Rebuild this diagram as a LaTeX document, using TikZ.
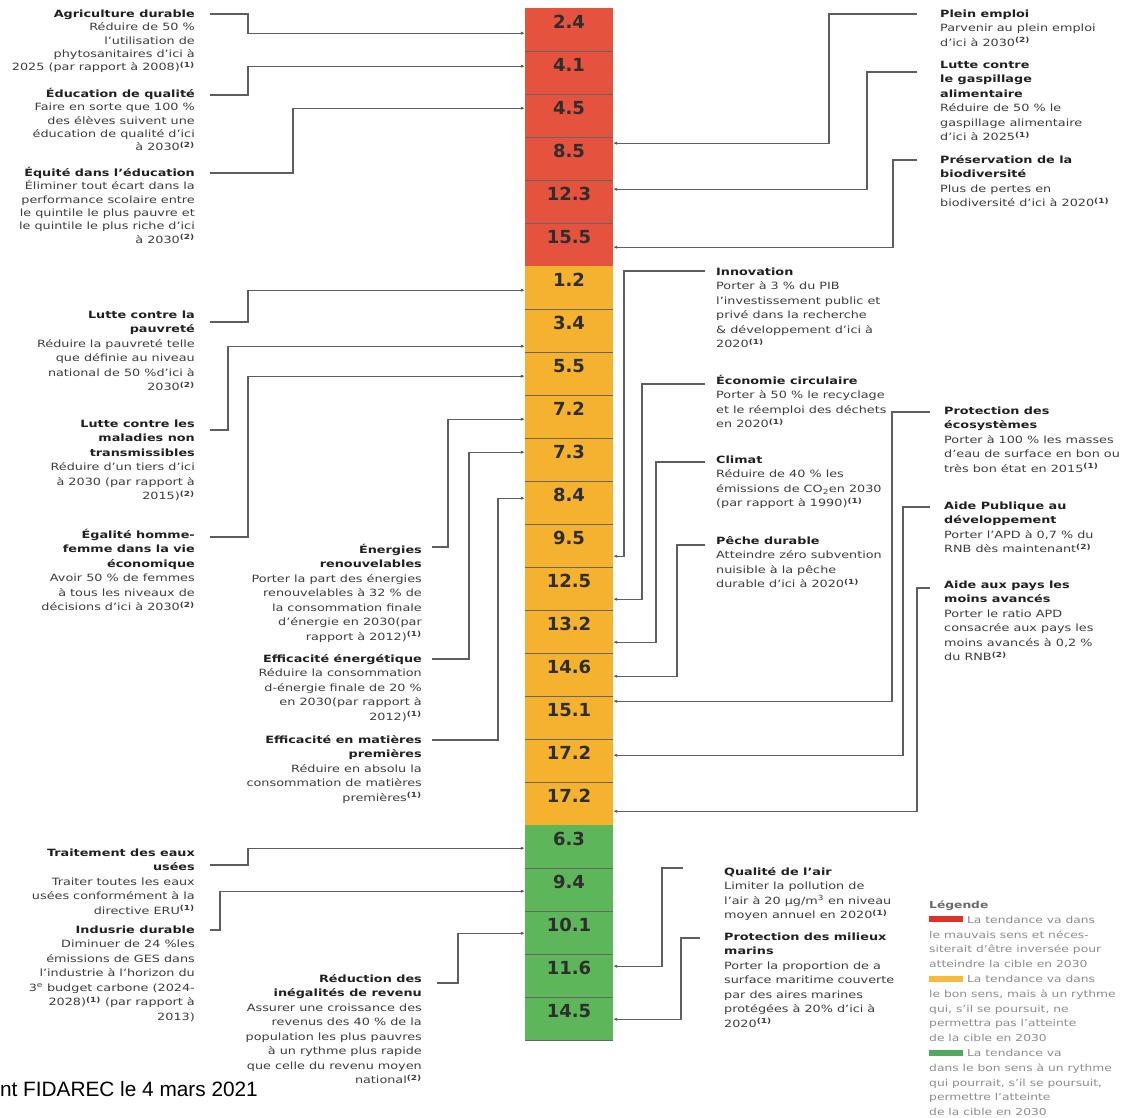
\documentclass[tikz,border=0pt]{standalone}
\usepackage{fontspec}
\setmainfont{DejaVu Sans}[FakeStretch=1.28]
\newfontfamily\numfont{DejaVu Sans}
\newfontfamily\footfont{Liberation Sans}
\usetikzlibrary{positioning}
\usetikzlibrary{arrows.meta}
\usetikzlibrary{calc}
\definecolor{cRed}{HTML}{E5533E}
\definecolor{cOrange}{HTML}{F5B22E}
\definecolor{cGreen}{HTML}{5DB75A}
\definecolor{lRed}{HTML}{E0302A}
\definecolor{lOrange}{HTML}{F6BA3C}
\definecolor{lGreen}{HTML}{4FAA5C}
\definecolor{titlecol}{HTML}{202020}
\definecolor{bodycol}{HTML}{3C3C3C}
\definecolor{legcol}{HTML}{8C8C8C}
\definecolor{legtitle}{HTML}{6A6A6A}
\definecolor{linecol}{HTML}{5E5E5E}
\newcommand\ttl[1]{{\bfseries\color{titlecol}#1}}
\newcommand\noteA{\textsuperscript{\bfseries(1)}}
\newcommand\noteB{\textsuperscript{\bfseries(2)}}
\newcommand\swatch[1]{\textcolor{#1}{\rule[0.2ex]{34pt}{6pt}}}

\begin{document}
\begin{tikzpicture}[
        x=1pt, y=-1pt,
        cell/.style = {minimum width=88pt, minimum height=43pt, inner sep=0pt, anchor=north,
            font=\numfont\bfseries\fontsize{18}{18}\selectfont, text=black!82,
            text height=13pt, text depth=15pt},
        sep/.style = {draw=black!60, line width=0.8pt},
        goal/.style = {inner sep=0pt, text=bodycol, font=\fontsize{10}{14.5}\selectfont},
        goal tight/.style = {font=\fontsize{10}{13.3}\selectfont},
        goal left/.style = {goal, anchor=north east, align=right},
        goal right/.style = {goal, anchor=north west, align=left},
        link/.style = {draw=linecol, line width=1.1pt, -{Latex[length=4pt,width=3.5pt]}}
    ]
    \useasboundingbox (0,0) rectangle (1140,1118);

    % the column of values
    \foreach \v [count=\i] in {2.4,4.1,4.5,8.5,12.3,15.5,1.2,3.4,5.5,7.2,7.3,8.4,9.5,12.5,13.2,14.6,15.1,17.2,17.2,6.3,9.4,10.1,11.6,14.5}{
        \ifnum\i<7 \def\cc{cRed}\else\ifnum\i<20 \def\cc{cOrange}\else\def\cc{cGreen}\fi\fi
        \node[cell, fill=\cc] (c\i) at (569,{8+43*(\i-1)}) {\v};
    }
    \foreach \i in {1,2,3,4,5,7,8,9,10,11,12,13,14,15,16,17,18,20,21,22,23,24}
        \draw[sep] (c\i.south west) -- (c\i.south east);

    % left side
    \node[goal left, goal tight] (agri) at (195,8) {\strut\ttl{Agriculture durable}\\Réduire de 50 \%\\l'utilisation de\\phytosanitaires d'ici à\\2025 (par rapport à 2008)\noteA};
    \node[goal left, goal tight] (eduq) at (195,88) {\strut\ttl{Éducation de qualité}\\Faire en sorte que 100 \%\\des élèves suivent une\\éducation de qualité d'ici\\à 2030\noteB};
    \node[goal left, goal tight] (equite) at (195,167) {\strut\ttl{Équité dans l'éducation}\\Éliminer tout écart dans la\\performance scolaire entre\\le quintile le plus pauvre et\\le quintile le plus riche d'ici\\à 2030\noteB};
    \node[goal left] (pauvrete) at (195,308) {\strut\ttl{Lutte contre la}\\\ttl{pauvreté}\\Réduire la pauvreté telle\\que définie au niveau\\national de 50 \%d'ici à\\2030\noteB};
    \node[goal left] (maladies) at (195,417) {\strut\ttl{Lutte contre les}\\\ttl{maladies non}\\\ttl{transmissibles}\\Réduire d'un tiers d'ici\\à 2030 (par rapport à\\2015)\noteB};
    \node[goal left] (egalite) at (195,528) {\strut\ttl{Égalité homme-}\\\ttl{femme dans la vie}\\\ttl{économique}\\Avoir 50 \% de femmes\\à tous les niveaux de\\décisions d'ici à 2030\noteB};
    \node[goal left] (enr) at (422,543) {\strut\ttl{Énergies}\\\ttl{renouvelables}\\Porter la part des énergies\\renouvelables à 32 \% de\\la consommation finale\\d'énergie en 2030(par\\rapport à 2012)\noteA};
    \node[goal left] (effen) at (422,652) {\strut\ttl{Efficacité énergétique}\\Réduire la consommation\\d-énergie finale de 20 \%\\en 2030(par rapport à\\2012)\noteA};
    \node[goal left] (effmp) at (422,733) {\strut\ttl{Efficacité en matières}\\\ttl{premières}\\Réduire en absolu la\\consommation de matières\\premières\noteA};
    \node[goal left] (traitement) at (195,846) {\strut\ttl{Traitement des eaux}\\\ttl{usées}\\Traiter toutes les eaux\\usées conformément à la\\directive ERU\noteA};
    \node[goal left] (industrie) at (195,923) {\strut\ttl{Indusrie durable}\\Diminuer de 24 \%les\\émissions de GES dans\\l'industrie à l'horizon du\\3\textsuperscript{e} budget carbone (2024-\\2028)\noteA{} (par rapport à\\2013)};
    \node[goal left] (inegal) at (422,972) {\strut\ttl{Réduction des}\\\ttl{inégalités de revenu}\\Assurer une croissance des\\revenus des 40 \% de la\\population les plus pauvres\\à un rythme plus rapide\\que celle du revenu moyen\\national\noteB};

    % right side
    \node[goal right] (plein) at (940,7) {\strut\ttl{Plein emploi}\\Parvenir au plein emploi\\d'ici à 2030\noteB};
    \node[goal right] (gaspi) at (940,58) {\strut\ttl{Lutte contre}\\\ttl{le gaspillage}\\\ttl{alimentaire}\\Réduire de 50 \% le\\gaspillage alimentaire\\d'ici à 2025\noteA};
    \node[goal right] (biodiv) at (940,153) {\strut\ttl{Préservation de la}\\\ttl{biodiversité}\\Plus de pertes en\\biodiversité d'ici à 2020\noteA};
    \node[goal right] (innov) at (716,265) {\strut\ttl{Innovation}\\Porter à 3 \% du PIB\\l'investissement public et\\privé dans la recherche\\\& développement d'ici à\\2020\noteA};
    \node[goal right] (eco) at (716,374) {\strut\ttl{Économie circulaire}\\Porter à 50 \% le recyclage\\et le réemploi des déchets\\en 2020\noteA};
    \node[goal right] (climat) at (716,453) {\strut\ttl{Climat}\\Réduire de 40 \% les\\émissions de CO\textsubscript{2}en 2030\\(par rapport à 1990)\noteA};
    \node[goal right] (peche) at (716,534) {\strut\ttl{Pêche durable}\\Atteindre zéro subvention\\nuisible à la pêche\\durable d'ici à 2020\noteA};
    \node[goal right] (ecosys) at (944,404) {\strut\ttl{Protection des}\\\ttl{écosystèmes}\\Porter à 100 \% les masses\\d'eau de surface en bon ou\\très bon état en 2015\noteA};
    \node[goal right] (apd) at (944,499) {\strut\ttl{Aide Publique au}\\\ttl{développement}\\Porter l'APD à 0,7 \% du\\RNB dès maintenant\noteB};
    \node[goal right] (pma) at (944,578) {\strut\ttl{Aide aux pays les}\\\ttl{moins avancés}\\Porter le ratio APD\\consacrée aux pays les\\moins avancés à 0,2 \%\\du RNB\noteB};
    \node[goal right] (air) at (724,865) {\strut\ttl{Qualité de l'air}\\Limiter la pollution de\\l'air à 20 µg/m\textsuperscript{3} en niveau\\moyen annuel en 2020\noteA};
    \node[goal right] (marins) at (724,930) {\strut\ttl{Protection des milieux}\\\ttl{marins}\\Porter la proportion de a\\surface maritime couverte\\par des aires marines\\protégées à 20\% d'ici à\\2020\noteA};

    % connectors
    \draw[link] ($(agri.north east)+(15,6)$) -- ++(38,0) |- ($(c1.west)+(0,3.5)$);
    \draw[link] ($(eduq.north east)+(15,7)$) -- ++(38,0) |- ($(c2.west)+(0,-6.5)$);
    \draw[link] ($(equite.north east)+(15,6)$) -- ++(83,0) |- ($(c3.west)+(0,-7.5)$);
    \draw[link] ($(plein.north west)+(-23,7)$) -- ++(-88,0) |- ($(c4.east)+(0,-15.5)$);
    \draw[link] ($(gaspi.north west)+(-23,14)$) -- ++(-50,0) |- ($(c5.east)+(0,-12.5)$);
    \draw[link] ($(biodiv.north west)+(-23,7)$) -- ++(-24,0) |- ($(c6.east)+(0,2.5)$);
    \draw[link] ($(pauvrete.north east)+(15,14)$) -- ++(38,0) |- ($(c7.west)+(0,2.5)$);
    \draw[link] ($(maladies.north east)+(15,13)$) -- ++(18,0) |- ($(c8.west)+(0,15.5)$);
    \draw[link] ($(egalite.north east)+(15,9)$) -- ++(38,0) |- ($(c9.west)+(0,2.5)$);
    \draw[link] ($(enr.north east)+(10,4)$) -- ++(16,0) |- ($(c10.west)+(0,2.5)$);
    \draw[link] ($(effen.north east)+(10,7)$) -- ++(37,0) |- ($(c11.west)+(0,-7.5)$);
    \draw[link] ($(effmp.north east)+(10,7)$) -- ++(66,0) |- ($(c12.west)+(0,-4.5)$);
    \draw[link] ($(innov.north west)+(-11,6)$) -- ++(-81,0) |- ($(c13.east)+(0,10.5)$);
    \draw[link] ($(eco.north west)+(-11,10)$) -- ++(-63,0) |- ($(c14.east)+(0,10.5)$);
    \draw[link] ($(climat.north west)+(-11,9)$) -- ++(-49,0) |- ($(c15.east)+(0,10.5)$);
    \draw[link] ($(peche.north west)+(-11,11)$) -- ++(-28,0) |- ($(c16.east)+(0,1.5)$);
    \draw[link] ($(ecosys.north west)+(-14,8)$) -- ++(-38,0) |- ($(c17.east)+(0,-16.5)$);
    \draw[link] ($(apd.north west)+(-14,8)$) -- ++(-27,0) |- ($(c18.east)+(0,-5.5)$);
    \draw[link] ($(pma.north west)+(-14,10)$) -- ++(-13,0) |- ($(c19.east)+(0,7.5)$);
    \draw[link] ($(traitement.north east)+(15,19)$) -- ++(38,0) |- ($(c20.west)+(0,1.5)$);
    \draw[link] ($(industrie.north east)+(15,7)$) -- ++(10,0) |- ($(c21.west)+(0,1.5)$);
    \draw[link] ($(inegal.north east)+(15,11)$) -- ++(21,0) |- ($(c22.west)+(0,0.5)$);
    \draw[link] ($(air.north west)+(-41,3)$) -- ++(-21,0) |- ($(c23.east)+(0,-9.5)$);
    \draw[link] ($(marins.north west)+(-24,8)$) -- ++(-19,0) |- ($(c24.east)+(0,0.5)$);

    % legend and source
    \node[goal right, text=legcol, font=\fontsize{9.6}{14.8}\selectfont] (legend) at (929,898) {\strut{\bfseries\color{legtitle}Légende}\\\swatch{lRed} La tendance va dans\\le mauvais sens et néces-\\siterait d'être inversée pour\\atteindre la cible en 2030\\\swatch{lOrange} La tendance va dans\\le bon sens, mais à un rythme\\qui, s'il se poursuit, ne\\permettra pas l'atteinte\\de la cible en 2030\\\swatch{lGreen} La tendance va\\dans le bon sens à un rythme\\qui pourrait, s'il se poursuit,\\permettre l'atteinte\\de la cible en 2030};
    \node[font=\footfont\fontsize{20.8}{21}\selectfont, anchor=base east, inner sep=0pt] (source) at (258,1096) {nt FIDAREC le 4 mars 2021};
\end{tikzpicture}
\end{document}
